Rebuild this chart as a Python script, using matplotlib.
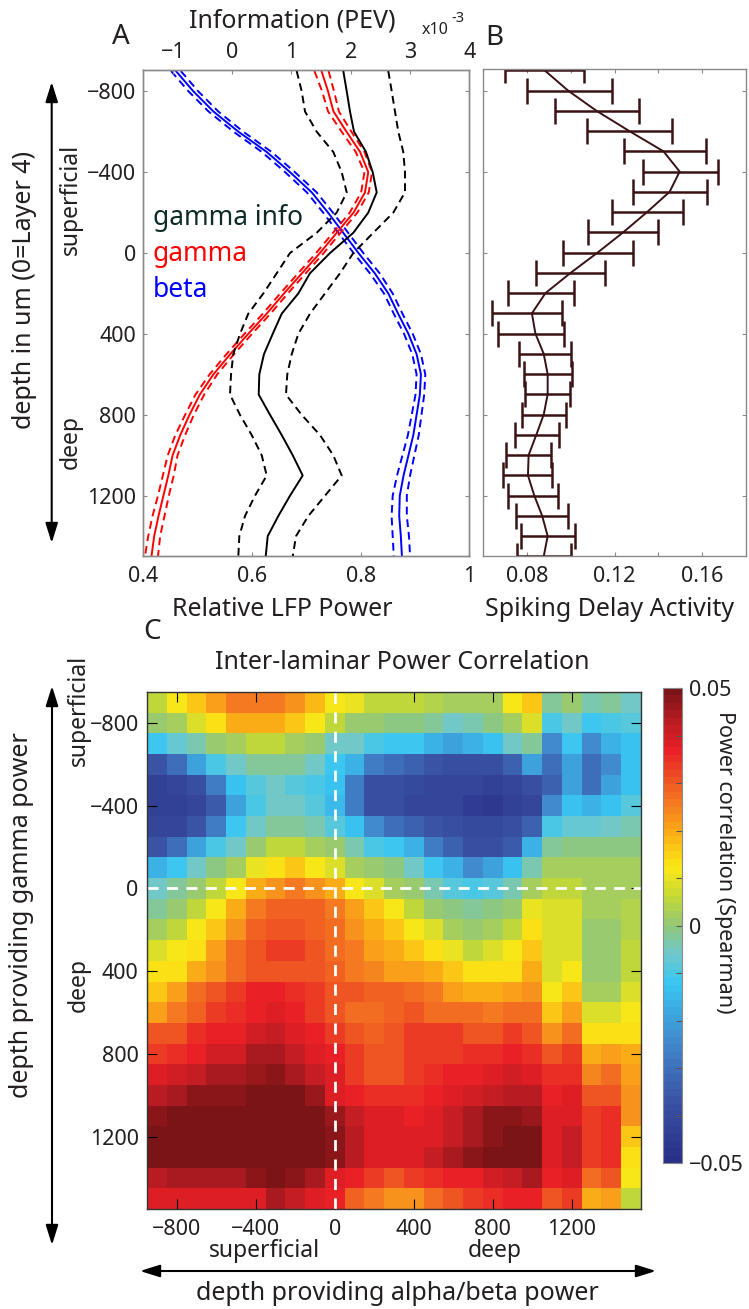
import numpy as np
import matplotlib
matplotlib.use("Agg")
import matplotlib.pyplot as plt
from matplotlib.colors import LinearSegmentedColormap
from matplotlib.patches import FancyArrowPatch

plt.rcParams['font.family'] = ['Noto Sans', 'DejaVu Sans']

W, H = 749, 1309

# recording depths (um, 0 = layer 4)
depth = [-900, -800, -700, -600, -500, -400, -300, -200, -100, 0, 100, 200, 300,
         400, 500, 600, 700, 800, 900, 1000, 1100, 1200, 1300, 1400, 1500]

# panel A: relative LFP power
beta_mean = [0.460, 0.492, 0.529, 0.575, 0.627, 0.670, 0.710, 0.740, 0.768, 0.796, 0.826, 0.851, 0.869,
             0.888, 0.903, 0.911, 0.909, 0.903, 0.897, 0.888, 0.879, 0.872, 0.871, 0.874, 0.876]
beta_sem = [0.009, 0.009, 0.009, 0.009, 0.009, 0.009, 0.009, 0.009, 0.009, 0.009, 0.009, 0.008, 0.008,
            0.008, 0.008, 0.008, 0.008, 0.009, 0.010, 0.011, 0.012, 0.013, 0.014, 0.015, 0.015]
gamma_mean = [0.728, 0.740, 0.750, 0.774, 0.799, 0.814, 0.808, 0.787, 0.756, 0.725, 0.692, 0.659, 0.627,
              0.593, 0.560, 0.529, 0.504, 0.485, 0.468, 0.454, 0.446, 0.437, 0.428, 0.420, 0.415]
gamma_sem = [0.013, 0.011, 0.010, 0.009, 0.008, 0.007, 0.007, 0.007, 0.007, 0.007, 0.007, 0.007, 0.007,
             0.007, 0.007, 0.007, 0.008, 0.008, 0.009, 0.009, 0.010, 0.010, 0.011, 0.011, 0.012]
# gamma information (PEV, x1e-3)
info_mean = [1.874, 1.932, 1.987, 2.055, 2.257, 2.370, 2.438, 2.296, 2.043, 1.650, 1.312, 1.115, 0.835,
             0.683, 0.536, 0.457, 0.447, 0.638, 0.835, 1.021, 1.189, 0.975, 0.778, 0.599, 0.565]
info_lo = [1.088, 1.172, 1.228, 1.425, 1.705, 1.847, 1.932, 1.763, 1.425, 0.975, 0.751, 0.525, 0.271,
           0.131, 0.018, -0.020, -0.037, 0.131, 0.329, 0.498, 0.582, 0.384, 0.216, 0.120, 0.103]
info_hi = [2.633, 2.691, 2.746, 2.802, 2.886, 2.915, 2.915, 2.718, 2.380, 2.043, 1.819, 1.565, 1.312,
           1.115, 1.004, 0.929, 0.907, 1.172, 1.481, 1.705, 1.847, 1.565, 1.284, 1.076, 1.021]

# panel B: spiking delay activity
spk_mean = [0.0880, 0.0987, 0.1117, 0.1267, 0.1423, 0.1497, 0.1451, 0.1348, 0.1239, 0.1122, 0.0999, 0.0884,
            0.0822, 0.0838, 0.0876, 0.0894, 0.0894, 0.0876, 0.0842, 0.0807, 0.0804, 0.0833, 0.0869, 0.0894, 0.0876]
spk_lo = [0.0700, 0.0800, 0.0927, 0.1072, 0.1244, 0.1329, 0.1286, 0.1186, 0.1076, 0.0965, 0.0842, 0.0713,
          0.0640, 0.0668, 0.0761, 0.0784, 0.0789, 0.0779, 0.0746, 0.0704, 0.0692, 0.0715, 0.0749, 0.0772, 0.0756]
spk_hi = [0.1060, 0.1186, 0.1313, 0.1463, 0.1617, 0.1674, 0.1623, 0.1511, 0.1400, 0.1286, 0.1157, 0.1013,
          0.0960, 0.0968, 0.0999, 0.1007, 0.0994, 0.0980, 0.0945, 0.0910, 0.0915, 0.0942, 0.0986, 0.1017, 0.0999]

# panel C: power correlation (x0.01), rows = gamma depth, cols = alpha/beta depth
corr = [
    [0.6, 1.2, 1.7, 2.1, 2.6, 2.6, 2.5, 2.3, 1.8, 1.2, 1.0, 0.6, 0.5, 0.6, 0.4, 0.2, 0.2, 0.3, 1.2, 1.7, -0.2, 0.1, -0.4, -0.3, -0.5],
    [0.0, 0.3, 0.8, 1.3, 1.9, 2.0, 2.0, 1.7, 1.1, 0.5, 0.1, 0.0, -0.1, -0.1, -0.3, -0.5, -0.4, -0.1, 0.3, 0.8, -1.0, -0.5, -1.1, -1.0, -0.9],
    [-1.1, -0.7, -0.4, 0.0, 0.2, 0.5, 0.5, 0.3, 0.0, -0.5, -0.6, -1.0, -1.1, -1.1, -1.6, -1.9, -1.6, -1.3, -0.5, -0.3, -2.4, -1.2, -2.4, -1.7, -1.3],
    [-3.7, -3.1, -1.9, -1.0, -0.5, -0.3, -0.2, -0.2, -0.5, -1.1, -1.7, -2.8, -3.1, -3.3, -3.6, -3.8, -3.9, -3.9, -3.4, -2.0, -3.1, -2.0, -3.1, -2.4, -1.3],
    [-4.3, -4.2, -3.9, -2.8, -1.3, -0.9, -0.6, -0.8, -1.0, -1.4, -2.8, -3.9, -3.9, -4.0, -4.2, -4.2, -4.2, -4.3, -4.2, -3.9, -3.3, -2.0, -3.1, -2.0, -1.3],
    [-4.3, -4.3, -4.2, -3.5, -1.9, -1.0, -0.6, -0.6, -0.8, -1.5, -2.8, -3.9, -3.9, -4.2, -4.2, -4.2, -4.5, -4.6, -4.3, -4.2, -2.4, -1.3, -1.7, -1.3, -0.8],
    [-4.2, -4.2, -3.7, -2.8, -1.1, -0.5, -0.2, -0.2, -0.4, -0.8, -1.3, -2.4, -3.1, -3.4, -3.7, -3.9, -4.0, -4.0, -3.9, -3.3, -1.0, -0.7, -0.7, -0.5, -0.4],
    [-3.7, -3.1, -1.9, -1.0, -0.5, 0.0, 0.5, 0.5, 0.2, 0.0, -0.4, -1.0, -1.1, -1.6, -2.8, -3.3, -3.8, -3.8, -3.5, -1.7, -0.2, -0.1, -0.1, -0.1, -0.1],
    [-1.6, -1.1, -0.6, -0.1, 0.3, 1.0, 1.4, 1.7, 1.2, 0.8, 0.3, 0.0, -0.1, -0.6, -1.1, -1.6, -2.4, -2.0, -1.3, -0.4, 0.2, 0.2, 0.2, 0.2, 0.2],
    [-0.6, -0.3, 0.1, 0.5, 1.2, 1.9, 2.3, 2.6, 2.3, 1.9, 1.2, 0.8, 0.3, 0.0, -0.4, -0.8, -1.0, -0.8, -0.4, 0.2, 0.5, 0.6, 0.3, 0.3, 0.3],
    [-0.2, 0.0, 0.6, 1.2, 1.9, 2.6, 2.9, 2.9, 2.9, 2.6, 2.1, 1.7, 1.2, 0.5, 0.1, -0.1, -0.3, -0.1, 0.1, 1.0, 0.8, 0.9, 0.2, 0.2, 0.4],
    [0.2, 0.6, 1.1, 1.7, 2.3, 2.9, 3.1, 3.1, 2.9, 2.7, 2.3, 1.9, 1.7, 1.2, 0.8, 0.2, 0.0, 0.2, 0.5, 1.3, 0.8, 0.9, 0.0, 0.0, 0.4],
    [0.8, 1.1, 1.4, 2.1, 2.7, 3.1, 3.3, 3.4, 3.1, 2.8, 2.6, 2.1, 1.9, 1.7, 1.3, 1.0, 0.6, 0.8, 1.1, 1.7, 0.8, 0.9, 0.0, 0.0, 0.5],
    [1.3, 1.4, 1.9, 2.3, 2.7, 3.1, 3.1, 3.0, 3.0, 2.9, 2.5, 2.4, 2.1, 2.1, 2.0, 1.7, 1.4, 1.4, 1.4, 1.9, 0.9, 1.1, 0.0, 0.0, 0.6],
    [1.7, 2.1, 2.7, 3.1, 3.4, 3.6, 3.7, 3.5, 3.3, 3.1, 3.0, 2.9, 2.9, 2.8, 2.5, 2.1, 2.0, 1.9, 2.1, 2.3, 1.2, 1.7, 0.3, 0.3, 0.8],
    [2.1, 2.5, 2.9, 3.4, 3.5, 3.7, 3.8, 3.6, 3.3, 3.1, 2.8, 2.8, 2.9, 3.0, 2.8, 2.7, 2.7, 2.5, 2.7, 2.7, 1.7, 2.1, 0.8, 0.8, 1.1],
    [3.0, 3.1, 3.5, 3.6, 3.7, 4.0, 4.2, 3.9, 3.6, 3.4, 3.1, 2.9, 3.1, 3.3, 3.3, 3.3, 3.1, 3.1, 3.3, 3.1, 2.3, 2.7, 1.4, 1.4, 1.4],
    [3.4, 3.5, 3.7, 4.0, 4.0, 4.4, 4.5, 4.2, 3.9, 3.6, 3.3, 3.1, 3.1, 3.3, 3.4, 3.4, 3.5, 3.5, 3.6, 3.5, 3.0, 3.4, 1.9, 2.1, 1.9],
    [3.8, 4.0, 4.2, 4.45, 4.45, 4.6, 4.75, 4.4, 4.2, 3.8, 3.4, 3.1, 3.1, 3.4, 3.5, 3.7, 3.7, 3.8, 4.0, 3.8, 3.5, 3.5, 2.4, 2.7, 2.1],
    [4.3, 4.5, 4.7, 4.7, 4.7, 5.0, 5.0, 5.0, 4.6, 3.9, 3.7, 3.5, 3.5, 3.5, 3.6, 3.8, 4.0, 4.2, 4.3, 4.3, 3.7, 3.8, 3.1, 3.1, 2.3],
    [4.8, 5.0, 5.0, 5.0, 5.0, 5.0, 5.0, 5.0, 5.0, 4.6, 4.2, 3.8, 3.8, 3.7, 3.8, 4.1, 4.45, 4.75, 4.8, 4.65, 3.8, 3.9, 3.3, 3.5, 2.3],
    [5.0, 5.0, 5.0, 5.0, 5.0, 5.0, 5.0, 5.0, 5.0, 4.7, 4.3, 3.8, 3.8, 3.8, 3.8, 4.2, 4.5, 4.75, 5.0, 5.0, 3.9, 4.1, 3.3, 3.5, 1.7],
    [5.0, 5.0, 5.0, 5.0, 5.0, 5.0, 5.0, 5.0, 5.0, 4.8, 4.3, 3.8, 3.8, 3.8, 4.2, 4.45, 4.75, 4.85, 5.0, 5.0, 3.9, 4.2, 3.3, 3.5, 1.4],
    [4.3, 4.45, 4.45, 4.45, 4.45, 4.7, 5.0, 4.7, 4.5, 3.9, 3.7, 3.3, 3.1, 3.3, 3.5, 3.6, 3.7, 4.0, 4.2, 4.4, 3.7, 3.8, 2.7, 3.1, 1.2],
    [3.8, 3.8, 3.8, 3.8, 3.8, 3.9, 4.4, 4.1, 3.9, 3.6, 2.9, 2.5, 2.3, 2.3, 2.7, 3.1, 3.3, 3.5, 3.6, 3.7, 3.1, 3.3, 1.9, 2.1, 0.6],
]

depth_ticks = [-800, -400, 0, 400, 800, 1200]
lfp_ticks = [0.4, 0.6, 0.8, 1.0]
lfp_labels = ['0.4', '0.6', '0.8', '1']
info_ticks = [-1, 0, 1, 2, 3, 4]
spk_ticks = [0.08, 0.10, 0.12, 0.14, 0.16]
spk_labels = ['0.08', '', '0.12', '', '0.16']
cb_ticks = [-0.05, -0.04, -0.03, -0.02, -0.01, 0.0, 0.01, 0.02, 0.03, 0.04, 0.05]

# jet-like map as printed in the figure
cmap_pos = [0.0, 0.125, 0.25, 0.375, 0.44, 0.5, 0.56, 0.625, 0.69, 0.75, 0.81, 0.875, 0.94, 1.0]
cmap_col = ['#2a2f88', '#3a52a4', '#4188cc', '#38c6f2', '#6ec8cc', '#92c878', '#c4d836',
            '#fce816', '#fbb316', '#f5821f', '#ee5523', '#e91e26', '#b51c22', '#7a1416']
cmap = LinearSegmentedColormap.from_list('pjet', list(zip(cmap_pos, cmap_col)), N=64)

TXT = '#231f20'
SPINE = '#8a8a8a'


def px_axes(fig, l, t, r, b):
    return fig.add_axes([l / W, 1 - b / H, (r - l) / W, (b - t) / H])


def ftext(fig, x, y, s, **kw):
    kw.setdefault('color', TXT)
    return fig.text(x / W, 1 - y / H, s, **kw)


def arrow(fig, x0, y0, x1, y1):
    a = FancyArrowPatch((x0 / W, 1 - y0 / H), (x1 / W, 1 - y1 / H), transform=fig.transFigure,
                        arrowstyle='<|-|>,head_length=0.8,head_width=0.25', mutation_scale=15,
                        color='black', lw=1.5, shrinkA=0, shrinkB=0)
    fig.add_artist(a)


def style_box(ax, color=SPINE, length=3):
    for s in ax.spines.values():
        s.set_color(color)
        s.set_linewidth(1.0)
    ax.tick_params(direction='in', length=length, width=0.8, color=color,
                   labelsize=15.5, labelcolor=TXT)


fig = plt.figure(figsize=(W / 100, H / 100), dpi=100)

# ---------------- panel A ----------------
ax_a = px_axes(fig, 143.3, 70, 469.3, 556.4)
d = np.array(depth)
bm, bs = np.array(beta_mean), np.array(beta_sem)
gm, gs = np.array(gamma_mean), np.array(gamma_sem)
ax_a.plot(bm, d, color='#0000ff', lw=1.4)
ax_a.plot(bm - bs, d, color='#0000ff', lw=1.4, ls='--', dashes=(4, 2.5))
ax_a.plot(bm + bs, d, color='#0000ff', lw=1.4, ls='--', dashes=(4, 2.5))
ax_a.plot(gm, d, color='#ff0000', lw=1.4)
ax_a.plot(gm - gs, d, color='#ff0000', lw=1.4, ls='--', dashes=(4, 2.5))
ax_a.plot(gm + gs, d, color='#ff0000', lw=1.4, ls='--', dashes=(4, 2.5))
ax_a.set_xlim(0.4, 1.0)
ax_a.set_ylim(1500, -905)
ax_a.set_xticks(lfp_ticks)
ax_a.set_xticklabels(lfp_labels)
ax_a.set_yticks(depth_ticks)
style_box(ax_a)
ax_a.tick_params(axis='y', right=True, pad=5)
ax_a.tick_params(axis='x', pad=7)

ax_i = ax_a.twiny()
ax_i.plot(info_mean, d, color='black', lw=1.4)
ax_i.plot(info_lo, d, color='black', lw=1.4, ls='--', dashes=(4, 2.5))
ax_i.plot(info_hi, d, color='black', lw=1.4, ls='--', dashes=(4, 2.5))
ax_i.set_xlim(-1.5, 4)
ax_i.set_xticks(info_ticks)
style_box(ax_i)
ax_i.tick_params(axis='x', pad=5)

ftext(fig, 121, 37, 'A', fontsize=20, ha='center', va='center')
ftext(fig, 292, 21, 'Information (PEV)', fontsize=18, ha='center', va='center')
ftext(fig, 422, 30, 'x10', fontsize=11.5, ha='left', va='center')
ftext(fig, 451, 18, '-3', fontsize=10.5, ha='left', va='center')
ftext(fig, 282, 609, 'Relative LFP Power', fontsize=18, ha='center', va='center')
ftext(fig, 25, 290, 'depth in um (0=Layer 4)', fontsize=18, rotation=90, ha='center', va='center')
ftext(fig, 71, 199, 'superficial', fontsize=16.5, rotation=90, ha='center', va='center')
ftext(fig, 71, 442, 'deep', fontsize=16.5, rotation=90, ha='center', va='center')
arrow(fig, 51.7, 543, 51.7, 82)
ftext(fig, 153, 218, 'gamma info', fontsize=19, color='#0f2b27', ha='left', va='center')
ftext(fig, 153, 254, 'gamma', fontsize=19, color='#ff0000', ha='left', va='center')
ftext(fig, 153, 290, 'beta', fontsize=19, color='#0000ff', ha='left', va='center')

# ---------------- panel B ----------------
ax_b = px_axes(fig, 483.3, 69.3, 746, 556.4)
sm = np.array(spk_mean)
xerr = [sm - np.array(spk_lo), np.array(spk_hi) - sm]
ax_b.errorbar(sm, d, xerr=xerr, color='#3a1214', lw=1.4, elinewidth=1.8,
              capsize=9.5, capthick=1.8, clip_on=True)
ax_b.set_xlim(0.06, 0.18)
ax_b.set_ylim(1500, -905)
ax_b.set_xticks(spk_ticks)
ax_b.set_xticklabels(spk_labels)
ax_b.set_yticks(depth_ticks)
ax_b.set_yticklabels([])
style_box(ax_b)
ax_b.tick_params(top=True, right=True)
ax_b.tick_params(axis='x', pad=7)
ftext(fig, 494, 38, 'B', fontsize=20, ha='center', va='center')
ftext(fig, 485, 609, 'Spiking Delay Activity', fontsize=18, ha='left', va='center')

# ---------------- panel C ----------------
ax_c = px_axes(fig, 147, 692, 641, 1209)
step = d[1] - d[0]
edges = np.append(d - step / 2, d[-1] + step / 2)
im = ax_c.pcolormesh(edges, edges, np.array(corr) * 0.01, cmap=cmap, vmin=-0.05, vmax=0.05)
ax_c.set_xlim(edges[0], edges[-1])
ax_c.set_ylim(edges[-1], edges[0])
ax_c.axvline(0, color='white', lw=2, ls=(0, (4, 3)))
ax_c.axhline(0, color='white', lw=2, ls=(0, (4, 3)))
ax_c.set_xticks(depth_ticks)
ax_c.set_yticks(depth_ticks)
style_box(ax_c, color='#333333', length=7.5)
ax_c.tick_params(top=True, right=True, color='black')
ax_c.tick_params(axis='x', pad=7)
ax_c.tick_params(axis='y', pad=6)

cax = px_axes(fig, 663, 688, 682, 1163)
cb = fig.colorbar(im, cax=cax, ticks=cb_ticks)
cb.set_ticklabels(['\u22120.05', '', '', '', '', '0', '', '', '', '', '0.05'])
cb.outline.set_edgecolor(SPINE)
cb.outline.set_linewidth(0.8)
cax.tick_params(direction='in', length=4, width=0.8, color='#555555', labelsize=15.5,
                labelcolor=TXT, pad=5)

ftext(fig, 152, 632, 'C', fontsize=20, ha='center', va='center')
ftext(fig, 402, 663, 'Inter-laminar Power Correlation', fontsize=18, ha='center', va='center')
ftext(fig, 724, 862, 'Power correlation (Spearman)', fontsize=15.5, rotation=270, ha='center', va='center')
ftext(fig, 22, 915, 'depth providing gamma power', fontsize=18, rotation=90, ha='center', va='center')
ftext(fig, 79, 710, 'superficial', fontsize=16.5, rotation=90, ha='center', va='center')
ftext(fig, 79, 985, 'deep', fontsize=16.5, rotation=90, ha='center', va='center')
arrow(fig, 52, 1245, 52, 686)
ftext(fig, 264, 1251, 'superficial', fontsize=16.5, ha='center', va='center')
ftext(fig, 495, 1251, 'deep', fontsize=16.5, ha='center', va='center')
arrow(fig, 140, 1271, 656, 1271)
ftext(fig, 397, 1294, 'depth providing alpha/beta power', fontsize=18, ha='center', va='center')

fig.savefig('out.png', dpi=100)
